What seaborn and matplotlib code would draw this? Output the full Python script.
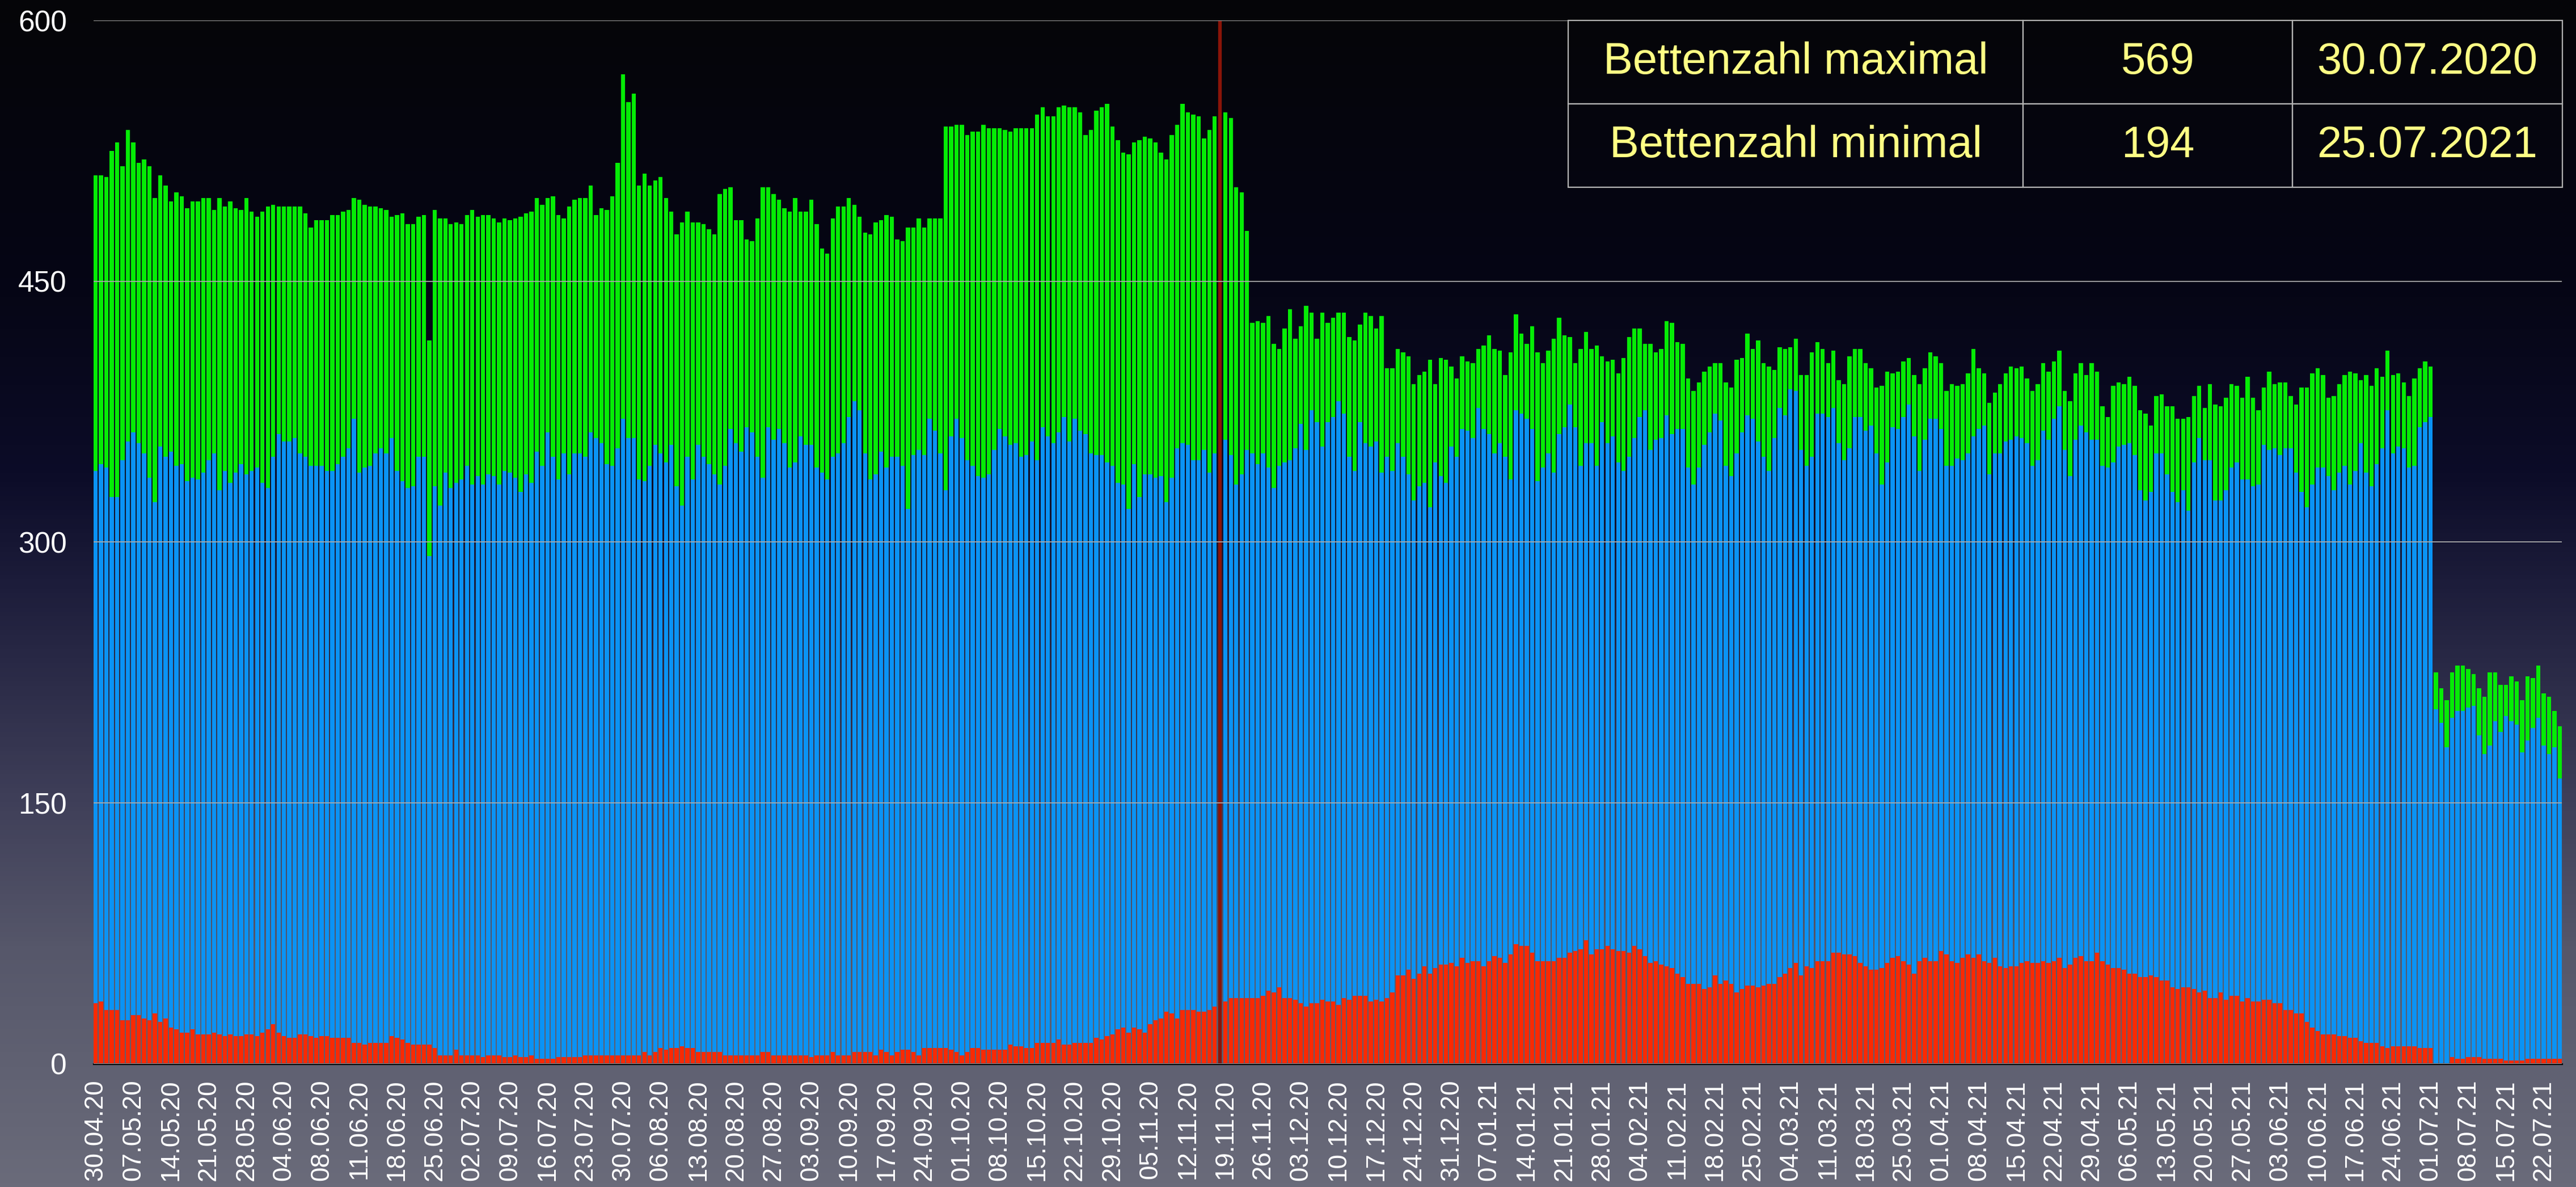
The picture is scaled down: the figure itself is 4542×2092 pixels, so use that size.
import numpy as np
import pandas as pd
import matplotlib
matplotlib.use("Agg")
import matplotlib.pyplot as plt
from matplotlib.colors import LinearSegmentedColormap
import seaborn as sns

nan = np.nan

# Intensivbetten insgesamt (oberer Rand der grünen Balken)
betten_gesamt = [
    511, 511, 510, 525, 530, 516, 537, 530, 518, 520,
    516, 498, 511, 505, 496, 501, 499, 492, 496, 496,
    498, 498, 491, 498, 493, 496, 492, 491, 498, 490,
    487, 490, 493, 494, 493, 493, 493, 493, 493, 489,
    481, 485, 485, 485, 488, 488, 490, 491, 498, 497,
    494, 493, 493, 492, 491, 487, 488, 489, 483, 483,
    487, 488, 416, 491, 486, 486, 483, 484, 483, 488,
    491, 487, 488, 488, 486, 484, 486, 485, 486, 487,
    489, 490, 498, 494, 498, 499, 488, 486, 493, 497,
    498, 498, 505, 488, 492, 491, 499, 518, 569, 553,
    558, 505, 512, 505, 508, 510, 498, 490, 477, 484,
    490, 484, 484, 483, 480, 477, 500, 503, 504, 485,
    485, 474, 473, 486, 504, 504, 500, 497, 492, 490,
    498, 490, 490, 497, 483, 469, 466, 486, 493, 493,
    498, 494, 487, 478, 477, 484, 485, 488, 487, 474,
    473, 481, 481, 486, 481, 486, 486, 486, 539, 539,
    540, 540, 534, 536, 536, 540, 538, 538, 538, 537,
    536, 538, 538, 538, 538, 546, 550, 545, 545, 550,
    551, 550, 550, 547, 534, 537, 548, 550, 552, 539,
    531, 524, 523, 530, 531, 533, 532, 530, 524, 520,
    534, 540, 552, 547, 546, 545, 532, 537, 545, nan,
    547, 544, 504, 501, 479, 426, 427, 426, 430, 414,
    411, 423, 434, 417, 424, 436, 432, 417, 432, 426,
    429, 432, 432, 418, 416, 425, 432, 430, 423, 430,
    400, 400, 411, 409, 407, 391, 396, 398, 405, 391,
    406, 405, 401, 394, 407, 404, 403, 411, 413, 419,
    411, 410, 396, 409, 431, 420, 414, 424, 409, 403,
    410, 417, 429, 419, 418, 403, 411, 421, 411, 413,
    407, 404, 405, 397, 406, 418, 423, 423, 414, 414,
    409, 411, 427, 426, 415, 414, 394, 387, 392, 398,
    401, 403, 403, 392, 389, 405, 406, 420, 411, 416,
    403, 401, 399, 412, 411, 412, 417, 396, 396, 409,
    415, 411, 403, 410, 393, 391, 407, 411, 411, 403,
    400, 389, 390, 398, 397, 398, 404, 406, 396, 391,
    400, 409, 407, 403, 387, 391, 390, 391, 397, 411,
    400, 397, 380, 386, 391, 397, 401, 400, 401, 394,
    387, 391, 403, 398, 404, 410, 387, 381, 397, 403,
    396, 403, 398, 378, 372, 390, 392, 391, 395, 390,
    376, 374, 367, 384, 385, 378, 378, 371, 371, 372,
    384, 390, 377, 391, 379, 378, 383, 391, 390, 383,
    395, 383, 376, 389, 398, 391, 392, 392, 384, 379,
    389, 389, 397, 400, 396, 383, 384, 391, 396, 398,
    397, 393, 396, 390, 400, 395, 410, 396, 397, 392,
    384, 394, 400, 404, 401, 225, 216, 209, 225, 229,
    229, 227, 224, 216, 211, 225, 225, 218, 218, 223,
    220, 209, 223, 222, 229, 213, 211, 203, 194,
]

# belegte Betten insgesamt (oberer Rand der blauen Balken)
betten_belegt = [
    341, 345, 343, 326, 326, 347, 358, 363, 357, 351,
    337, 323, 355, 349, 352, 344, 345, 335, 337, 336,
    340, 347, 351, 330, 341, 334, 340, 345, 339, 341,
    343, 334, 331, 349, 362, 358, 358, 360, 351, 349,
    344, 344, 344, 341, 341, 345, 349, 354, 371, 340,
    343, 344, 351, 354, 351, 360, 341, 335, 331, 332,
    349, 349, 292, 332, 321, 340, 331, 334, 336, 344,
    333, 338, 333, 339, 338, 333, 341, 340, 337, 329,
    339, 334, 352, 344, 363, 349, 336, 351, 339, 351,
    351, 349, 363, 360, 357, 345, 344, 354, 371, 360,
    360, 336, 335, 344, 356, 351, 346, 356, 332, 321,
    349, 336, 356, 349, 345, 339, 333, 344, 365, 357,
    352, 366, 363, 349, 337, 366, 359, 365, 357, 343,
    346, 361, 356, 356, 343, 340, 336, 349, 351, 357,
    372, 381, 376, 351, 336, 339, 352, 343, 349, 349,
    344, 319, 350, 353, 350, 371, 364, 351, 330, 361,
    371, 360, 347, 344, 338, 337, 339, 353, 365, 361,
    356, 357, 349, 350, 358, 347, 366, 361, 357, 363,
    372, 358, 371, 364, 362, 351, 350, 350, 346, 344,
    334, 333, 319, 345, 326, 339, 339, 337, 338, 323,
    337, 354, 357, 356, 347, 347, 353, 340, 351, nan,
    359, 350, 333, 339, 353, 351, 345, 351, 343, 331,
    344, 346, 347, 354, 368, 353, 376, 369, 355, 369,
    372, 381, 374, 349, 341, 369, 357, 355, 358, 340,
    349, 341, 357, 349, 339, 324, 332, 334, 320, 346,
    338, 334, 355, 349, 365, 364, 360, 377, 365, 362,
    351, 357, 349, 336, 376, 374, 371, 365, 335, 343,
    351, 340, 362, 366, 379, 366, 344, 357, 357, 344,
    369, 357, 361, 346, 341, 349, 360, 372, 376, 353,
    359, 360, 373, 362, 365, 365, 343, 333, 343, 356,
    363, 374, 370, 344, 338, 351, 363, 373, 371, 358,
    349, 341, 360, 377, 373, 388, 387, 353, 344, 349,
    374, 374, 372, 377, 357, 347, 354, 372, 372, 364,
    367, 351, 333, 346, 366, 365, 372, 379, 361, 341,
    359, 371, 371, 365, 344, 344, 348, 347, 351, 361,
    365, 367, 339, 351, 351, 358, 359, 361, 360, 357,
    344, 347, 364, 359, 371, 378, 353, 338, 359, 367,
    363, 359, 359, 344, 343, 346, 355, 356, 357, 350,
    330, 324, 329, 351, 351, 339, 329, 323, 330, 318,
    346, 360, 347, 347, 324, 324, 330, 343, 346, 336,
    336, 332, 333, 356, 353, 354, 350, 354, 354, 340,
    329, 320, 333, 343, 343, 338, 330, 340, 344, 333,
    341, 357, 340, 332, 345, 354, 376, 351, 355, 354,
    343, 344, 366, 369, 372, 204, 196, 182, 199, 203,
    203, 205, 206, 189, 178, 183, 197, 191, 200, 197,
    195, 179, 186, 193, 199, 183, 178, 182, 164,
]

# davon COVID-19-Patienten (rote Balken)
covid_patienten = [
    35, 36, 31, 31, 31, 25, 25, 28, 28, 26,
    25, 29, 24, 26, 21, 20, 18, 18, 20, 17,
    17, 17, 18, 17, 16, 17, 16, 16, 17, 17,
    16, 18, 20, 23, 18, 16, 15, 15, 17, 17,
    16, 15, 16, 16, 15, 15, 15, 15, 12, 12,
    11, 12, 12, 12, 12, 16, 15, 14, 12, 11,
    11, 11, 11, 9, 5, 5, 5, 8, 5, 5,
    5, 5, 4, 5, 5, 5, 4, 4, 5, 4,
    4, 5, 3, 3, 3, 3, 4, 4, 4, 4,
    4, 5, 5, 5, 5, 5, 5, 5, 5, 5,
    5, 5, 7, 5, 7, 9, 8, 9, 9, 10,
    9, 9, 7, 7, 7, 7, 7, 5, 5, 5,
    5, 5, 5, 5, 7, 7, 5, 5, 5, 5,
    5, 5, 5, 4, 5, 5, 5, 7, 5, 5,
    5, 7, 7, 7, 7, 5, 8, 7, 5, 7,
    8, 8, 7, 5, 9, 9, 9, 9, 9, 8,
    7, 5, 7, 9, 9, 8, 8, 8, 8, 8,
    11, 10, 10, 9, 9, 12, 12, 12, 12, 14,
    11, 11, 12, 12, 12, 12, 15, 14, 16, 17,
    20, 21, 18, 21, 20, 18, 23, 25, 26, 30,
    29, 26, 31, 31, 31, 30, 30, 31, 33, nan,
    36, 38, 38, 38, 38, 38, 38, 39, 42, 41,
    44, 38, 38, 37, 35, 33, 35, 35, 37, 36,
    36, 34, 38, 37, 39, 39, 39, 36, 37, 36,
    38, 41, 51, 51, 54, 49, 52, 56, 52, 55,
    57, 57, 58, 56, 61, 58, 59, 59, 56, 59,
    62, 61, 58, 63, 69, 68, 68, 64, 59, 59,
    59, 59, 61, 61, 64, 65, 66, 71, 63, 66,
    66, 68, 66, 65, 65, 64, 68, 66, 62, 58,
    59, 57, 56, 55, 52, 50, 46, 46, 46, 43,
    44, 51, 46, 48, 46, 41, 43, 45, 45, 44,
    45, 46, 46, 50, 52, 55, 58, 51, 56, 55,
    59, 59, 59, 64, 64, 63, 63, 62, 58, 56,
    54, 54, 55, 58, 61, 62, 59, 57, 52, 59,
    61, 59, 59, 65, 63, 59, 58, 61, 63, 61,
    63, 59, 58, 61, 56, 55, 56, 56, 58, 59,
    58, 58, 59, 58, 59, 61, 55, 57, 61, 62,
    59, 59, 64, 59, 57, 55, 55, 54, 52, 52,
    50, 50, 51, 50, 48, 48, 44, 43, 44, 44,
    43, 41, 42, 38, 38, 41, 37, 39, 39, 36,
    38, 36, 36, 37, 37, 35, 35, 31, 31, 29,
    29, 24, 21, 19, 17, 17, 17, 16, 16, 15,
    15, 13, 12, 12, 12, 10, 9, 10, 10, 10,
    10, 10, 9, 9, 9, 0, 0, 0, 4, 3,
    3, 4, 4, 4, 3, 3, 3, 3, 2, 2,
    2, 2, 3, 3, 3, 3, 3, 3, 3,
]

# Beschriftung jeder siebten Kategorie
datum_labels = [
    "30.04.20", "07.05.20", "14.05.20", "21.05.20", "28.05.20", "04.06.20",
    "08.06.20", "11.06.20", "18.06.20", "25.06.20", "02.07.20", "09.07.20",
    "16.07.20", "23.07.20", "30.07.20", "06.08.20", "13.08.20", "20.08.20",
    "27.08.20", "03.09.20", "10.09.20", "17.09.20", "24.09.20", "01.10.20",
    "08.10.20", "15.10.20", "22.10.20", "29.10.20", "05.11.20", "12.11.20",
    "19.11.20", "26.11.20", "03.12.20", "10.12.20", "17.12.20", "24.12.20",
    "31.12.20", "07.01.21", "14.01.21", "21.01.21", "28.01.21", "04.02.21",
    "11.02.21", "18.02.21", "25.02.21", "04.03.21", "11.03.21", "18.03.21",
    "25.03.21", "01.04.21", "08.04.21", "15.04.21", "22.04.21", "29.04.21",
    "06.05.21", "13.05.21", "20.05.21", "27.05.21", "03.06.21", "10.06.21",
    "17.06.21", "24.06.21", "01.07.21", "08.07.21", "15.07.21", "22.07.21",
]
label_abstand = 7
stichtag_index = 209          # Markierung (rote Linie)
y_werte = [0, 150, 300, 450, 600]

tabelle = [
    ["Bettenzahl maximal", "569", "30.07.2020"],
    ["Bettenzahl minimal", "194", "25.07.2021"],
]

GRUEN = "#05ec05"
BLAU = "#0a93f5"
ROT = "#fa2a02"
LINIE = "#8a1408"
GELB = "#ffff84"
GITTER = "#aaaaaa"

n = len(betten_gesamt)
assert len(betten_belegt) == n and len(covid_patienten) == n
tage = np.arange(n)
df = pd.DataFrame({
    "tag": tage,
    "gesamt": betten_gesamt,
    "belegt": betten_belegt,
    "covid": covid_patienten,
})

plt.rcParams["font.family"] = ["Liberation Sans", "DejaVu Sans"]

W, H = 4542, 2092
fig = plt.figure(figsize=(W / 100, H / 100), dpi=100)

# Hintergrund: Verlauf von fast schwarz (oben) zu graublau (unten)
bg = fig.add_axes([0, 0, 1, 1], zorder=-10)
stops = [
    (0.00, (5, 5, 8)),
    (0.25, (6, 6, 22)),
    (0.40, (12, 12, 40)),
    (0.50, (30, 30, 60)),
    (0.67, (62, 62, 88)),
    (0.80, (86, 87, 106)),
    (1.00, (106, 107, 122)),
]
cmap = LinearSegmentedColormap.from_list(
    "hg", [(p, tuple(c / 255 for c in rgb)) for p, rgb in stops])
grad = np.linspace(0, 1, 512).reshape(-1, 1)
bg.imshow(grad, aspect="auto", cmap=cmap, extent=[0, 1, 0, 1], origin="upper")
bg.set_axis_off()

# Diagrammfläche
x0, x1 = 165, 4517
y_null, y_top = 1875, 36
ax = fig.add_axes([x0 / W, (H - y_null) / H, (x1 - x0) / W, (y_null - y_top) / H])
ax.patch.set_alpha(0)

breite = 0.78
for spalte, farbe in [("gesamt", GRUEN), ("belegt", BLAU), ("covid", ROT)]:
    d = df.dropna(subset=[spalte])
    d = d[d[spalte] > 0]
    sns.barplot(data=d, x="tag", y=spalte, native_scale=True, orient="x",
                color=farbe, saturation=1, width=breite, errorbar=None,
                linewidth=0, ax=ax)

ax.axvline(stichtag_index, color=LINIE, linewidth=4.6, zorder=2)

ax.set_xlim(-breite / 2, n - 1 + breite / 2)
ax.set_ylim(0, 600)
ax.set_xlabel("")
ax.set_ylabel("")

ax.set_yticks(y_werte)
ax.set_yticklabels([str(v) for v in y_werte])
ax.yaxis.grid(True, color=GITTER, linewidth=1.3)
ax.xaxis.grid(False)
ax.set_axisbelow(False)

ax.set_xticks(tage[::label_abstand])
ax.set_xticklabels(datum_labels)
ax.tick_params(axis="x", colors="white", labelsize=33, length=0, pad=20,
               labelrotation=90)
ax.tick_params(axis="y", colors="white", labelsize=37, length=0, pad=34)

for s in ["left", "right", "top"]:
    ax.spines[s].set_visible(False)
ax.spines["bottom"].set_color("black")
ax.spines["bottom"].set_linewidth(2.3)

# Tabelle mit Extremwerten
tx0, tx1, ty0, ty1 = 2765, 4518, 36, 330
bbox = [(tx0 - x0) / (x1 - x0), (y_null - ty1) / (y_null - y_top),
        (tx1 - tx0) / (x1 - x0), (ty1 - ty0) / (y_null - y_top)]
tbl = ax.table(cellText=tabelle, cellLoc="center",
               colWidths=[0.4578, 0.2711, 0.2717], bbox=bbox)
tbl.auto_set_font_size(False)
tbl.set_fontsize(56)
tbl.set_zorder(6)
for (r, c), cell in tbl.get_celld().items():
    cell.set_facecolor("none")
    cell.set_edgecolor("#b4b4b4")
    cell.set_linewidth(1.6)
    cell.get_text().set_color(GELB)

fig.savefig("out.png", dpi=100)
